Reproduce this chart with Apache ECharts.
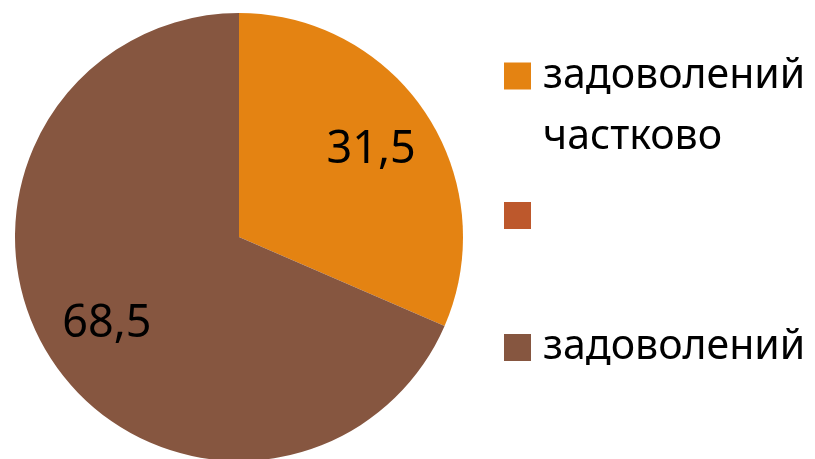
<!DOCTYPE html>
<html>
<head>
<meta charset="utf-8">
<script src="https://cdn.jsdelivr.net/npm/echarts@6/dist/echarts.min.js"></script>
<style>
html,body{margin:0;padding:0;background:#fff;}
#chart{width:815px;height:459px;}
</style>
</head>
<body>
<div id="chart"></div>
<script>
const categories = ['задоволений частково', ' ', 'задоволений'];
const values = [31.5, 0, 68.5];
const colors = ['#E48312', '#BD582C', '#865640'];

const FONT = 'Noto Sans';
const chart = echarts.init(document.getElementById('chart'), null, {renderer: 'canvas'});

const pieData = categories.map((c, i) => ({name: c, value: values[i], itemStyle: {color: colors[i]}}));
const labelData = categories.map((c, i) => ({name: c, value: values[i]}));

function legendCfg(idx, top, extraText) {
  return {
    data: [categories[idx]],
    orient: 'vertical',
    left: 504,
    top: top,
    padding: 0,
    itemWidth: 27,
    itemHeight: 27,
    icon: 'rect',
    selectedMode: false,
    textStyle: Object.assign({
      fontFamily: FONT,
      fontSize: 41,
      color: '#000',
      lineHeight: 27,
      padding: [0, 0, 0, 7]
    }, extraText || {})
  };
}

const l0 = legendCfg(0, -15.5, {lineHeight: 61});
l0.formatter = function (name) { return '\n' + name.replace(' ', '\n'); };

chart.setOption({
  animation: false,
  color: colors,
  legend: [l0, legendCfg(1, 195), legendCfg(2, 327)],
  series: [
    {
      type: 'pie',
      center: [239, 237],
      radius: [0, 224],
      startAngle: 90,
      clockwise: true,
      silent: true,
      label: {show: false},
      labelLine: {show: false},
      itemStyle: {borderWidth: 0},
      data: pieData
    },
    {
      type: 'pie',
      center: [239, 237],
      radius: [0, 310],
      startAngle: 90,
      clockwise: true,
      silent: true,
      itemStyle: {color: 'rgba(0,0,0,0)', borderWidth: 0},
      labelLine: {show: false},
      label: {
        show: true,
        position: 'inside',
        fontFamily: FONT,
        fontSize: 45,
        color: '#000',
        formatter: function (p) { return p.value ? String(p.value).replace('.', ',') : ''; }
      },
      data: labelData
    }
  ]
});
</script>
</body>
</html>
